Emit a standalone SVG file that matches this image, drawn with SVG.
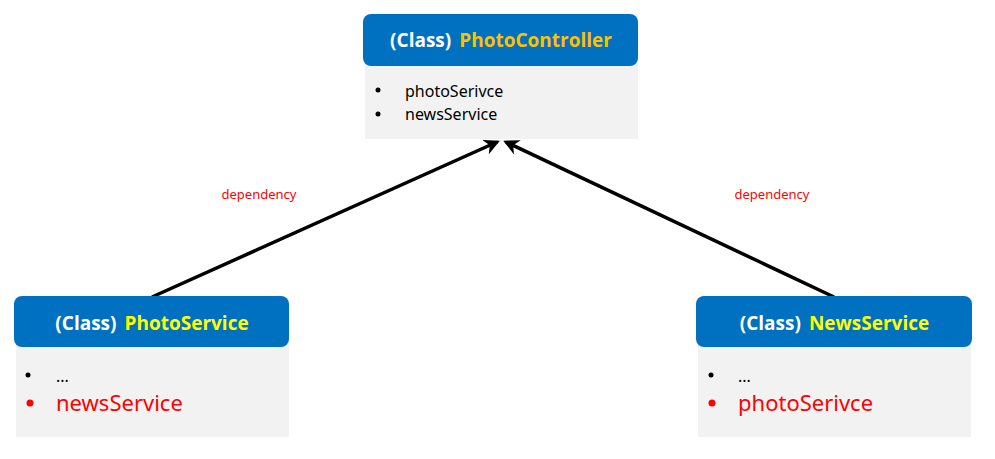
<svg xmlns="http://www.w3.org/2000/svg" width="995" height="459" viewBox="0 0 995 459">
<style>
.hdr{fill:#0070C0}
.body{fill:#F2F2F2}
.ht{font-family:"Open Sans","Noto Sans",sans-serif;font-weight:bold;font-size:19px}
.w{fill:#FFFFFF}
.bt{font-family:"Noto Sans","Liberation Sans",sans-serif;font-size:16px;fill:#000}
.rt{font-family:"Noto Sans","Liberation Sans",sans-serif;font-size:22px;fill:#FF0000}
.lbl{font-family:"Noto Sans","Liberation Sans",sans-serif;font-size:13px;fill:#FF0000}
.edge{stroke:#000;stroke-width:3.5;fill:none;marker-end:url(#ah)}
</style>
<defs>
<marker id="ah" viewBox="0 0 10 10" refX="8" refY="5" markerWidth="4.5" markerHeight="4.5" orient="auto" markerUnits="strokeWidth">
<path d="M0,0 L10,5 L0,10 L3,5 z" fill="#000"/>
</marker>
</defs>
<rect width="995" height="459" fill="#FFFFFF"/>
<g id="edges">
<line class="edge" x1="152" y1="297" x2="497" y2="142"/>
<line class="edge" x1="834" y1="297" x2="506" y2="142"/>
<text class="lbl" x="259" y="199" text-anchor="middle">dependency</text>
<text class="lbl" x="772" y="199" text-anchor="middle">dependency</text>
</g>
<g id="PhotoController">
<rect class="body" x="365" y="60" width="273" height="79"/>
<rect class="hdr" x="363" y="14" width="275" height="52" rx="8"/>
<text class="ht" x="501" y="47" text-anchor="middle"><tspan class="w">(Class)</tspan><tspan fill="#FFC000" dx="8">PhotoController</tspan></text>
<circle cx="378" cy="90" r="2.5" fill="#000"/>
<text class="bt" x="405" y="97">photoSerivce</text>
<circle cx="378" cy="114" r="2.5" fill="#000"/>
<text class="bt" x="405" y="120">newsService</text>
</g>
<g id="PhotoService">
<rect class="body" x="16" y="340" width="273" height="97"/>
<rect class="hdr" x="14" y="296" width="275" height="51" rx="8"/>
<text class="ht" x="152" y="330" text-anchor="middle"><tspan class="w">(Class)</tspan><tspan fill="#FFFF00" dx="8">PhotoService</tspan></text>
<circle cx="28" cy="375" r="2.5" fill="#000"/>
<text class="bt" x="56" y="382">...</text>
<circle cx="30" cy="403" r="3.5" fill="#FF0000"/>
<text class="rt" x="56" y="411">newsService</text>
</g>
<g id="NewsService">
<rect class="body" x="698" y="340" width="273" height="97"/>
<rect class="hdr" x="696" y="296" width="276" height="51" rx="8"/>
<text class="ht" x="834.5" y="330" text-anchor="middle"><tspan class="w">(Class)</tspan><tspan fill="#FFFF00" dx="8">NewsService</tspan></text>
<circle cx="711" cy="375" r="2.5" fill="#000"/>
<text class="bt" x="738" y="382">...</text>
<circle cx="712" cy="403" r="3.5" fill="#FF0000"/>
<text class="rt" x="738" y="411">photoSerivce</text>
</g>
</svg>
